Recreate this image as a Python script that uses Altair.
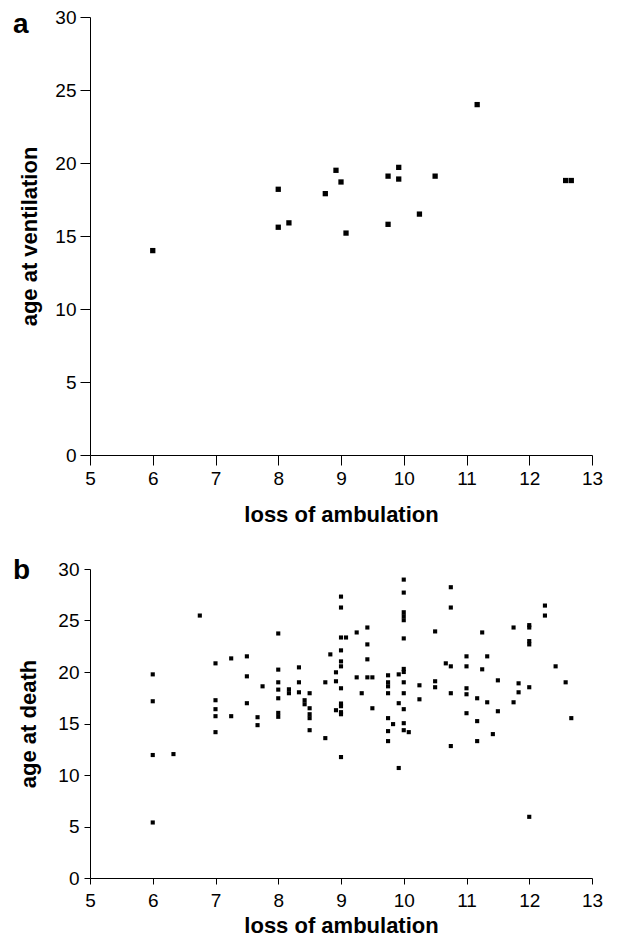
import altair as alt
import pandas as pd

# Panel a: loss of ambulation vs age at ventilation
a_loss = [6.0, 8.0, 8.0, 8.17, 8.75, 8.92, 9.0, 9.08, 9.75, 9.75, 9.92, 9.92,
          10.25, 10.5, 11.17, 12.58, 12.67]
a_vent = [14.0, 18.2, 15.6, 15.9, 17.9, 19.5, 18.7, 15.2, 19.1, 15.8, 19.7, 18.9,
          16.5, 19.1, 24.0, 18.8, 18.8]

# Panel b: loss of ambulation vs age at death
b_loss = (
    [6.0] * 4 + [6.33] + [6.75] + [7.0] * 5 + [7.25] * 2 + [7.5] * 3 + [7.67] * 2 + [7.75]
    + [8.0] * 7 + [8.17] * 2 + [8.33] * 3 + [8.42] * 2 + [8.5] * 5 + [8.75] * 2 + [8.83]
    + [8.92] * 3 + [9.0] * 12 + [9.08] + [9.25] * 2 + [9.33] + [9.42] * 4 + [9.5] * 2
    + [9.75] * 7 + [9.83] + [9.92] * 3 + [10.0] * 13 + [10.08] + [10.25] * 2 + [10.5] * 3
    + [10.67] + [10.75] * 5 + [11.0] * 5 + [11.17] * 3 + [11.25] * 2 + [11.33] * 2 + [11.42]
    + [11.5] * 2 + [11.75] * 2 + [11.83] * 2 + [12.0] * 6 + [12.25] * 2 + [12.42] + [12.58]
    + [12.67]
)
b_death = [
    19.77, 17.16, 11.94, 5.39,
    12.03,
    25.48,
    20.84, 17.26, 16.39, 15.71, 14.16,
    21.32, 15.71,
    21.52, 19.58, 16.97,
    15.61, 14.84,
    18.61,
    23.74, 20.23, 19.0, 18.29, 17.45, 16.03, 15.65,
    18.32, 17.94,
    20.45, 19.0, 18.03,
    17.26, 16.87,
    17.94, 16.48, 15.9, 15.52, 14.35,
    13.58, 19.0,
    21.71,
    19.97, 19.1, 16.29,
    27.32, 26.26, 23.35, 22.1, 21.03, 20.55, 18.42, 16.94, 16.68, 16.1, 15.9, 11.74,
    23.35,
    23.84, 19.48,
    17.94,
    24.32, 22.68, 21.23, 19.48,
    19.48, 16.48,
    19.68, 19.0, 18.61, 17.94, 15.52, 14.26, 13.29,
    14.94,
    19.77, 16.97, 10.68,
    28.97, 27.71, 25.8, 25.42, 25.03, 23.26, 20.3, 20.0, 19.0, 17.94, 16.39, 15.03, 14.35,
    14.16,
    18.71, 17.35,
    23.94, 19.1, 18.52,
    20.84,
    28.23, 26.26, 20.55, 17.94, 12.81,
    21.52, 20.55, 18.42, 17.84, 16.0,
    17.45, 15.23, 13.29,
    23.84, 20.26,
    21.52, 17.06,
    13.97,
    19.19, 16.19,
    24.32, 17.06,
    18.9, 18.03,
    24.55, 24.32, 23.0, 22.68, 18.52, 5.94,
    26.45, 25.48,
    20.55,
    19.0,
    15.52,
]

x_ticks = [5, 6, 7, 8, 9, 10, 11, 12, 13]
y_ticks = [0, 5, 10, 15, 20, 25, 30]
x_title = "loss of ambulation"

FONT = "Liberation Sans"
common_axis = dict(
    grid=False, domainColor="black", tickColor="black", labelColor="black",
    titleColor="black", labelFont=FONT, titleFont=FONT, labelFontSize=19,
    titleFontSize=22, titleFontWeight="bold", domainWidth=1, tickWidth=1,
)


def panel(xs, ys, letter, ytitle, height, size, xtick, xlabpad, xtitlepad,
          ytick, ylabpad, ytitlepad, letter_y):
    df = pd.DataFrame({"loss": xs, "age": ys})
    pts = alt.Chart(df).mark_square(
        size=size, color="black", opacity=1, strokeWidth=0
    ).encode(
        x=alt.X("loss:Q", scale=alt.Scale(domain=[5, 13], nice=False, zero=False),
                axis=alt.Axis(values=x_ticks, title=x_title, tickSize=xtick,
                              labelPadding=xlabpad, titlePadding=xtitlepad,
                              labelFlush=False, **common_axis)),
        y=alt.Y("age:Q", scale=alt.Scale(domain=[0, 30], nice=False),
                axis=alt.Axis(values=y_ticks, title=ytitle, tickSize=ytick,
                              labelPadding=ylabpad, titlePadding=ytitlepad,
                              labelFlush=False, **common_axis)),
    )
    lab = alt.Chart(pd.DataFrame({"t": [letter]})).mark_text(
        font=FONT, fontSize=28, fontWeight="bold", color="black",
        align="left", baseline="alphabetic",
    ).encode(text="t:N", x=alt.value(-77), y=alt.value(letter_y))
    return alt.layer(pts, lab).properties(width=502, height=height)


pa = panel(a_loss, a_vent, "a", "age at ventilation", 438, 28,
           10, 4, 16, 10, 4, 13, 16)
pb = panel(b_loss, b_death, "b", "age at death", 309, 17,
           6, 7, 5, 6, 5, 17, 10)

chart = alt.vconcat(pa, pb, spacing=114, bounds="flush").properties(
    padding={"left": 5, "top": 0, "right": 0, "bottom": 0},
    background="white",
).configure_view(stroke=None)

chart.save("out.html", embed_options={"renderer": "svg", "actions": False})
